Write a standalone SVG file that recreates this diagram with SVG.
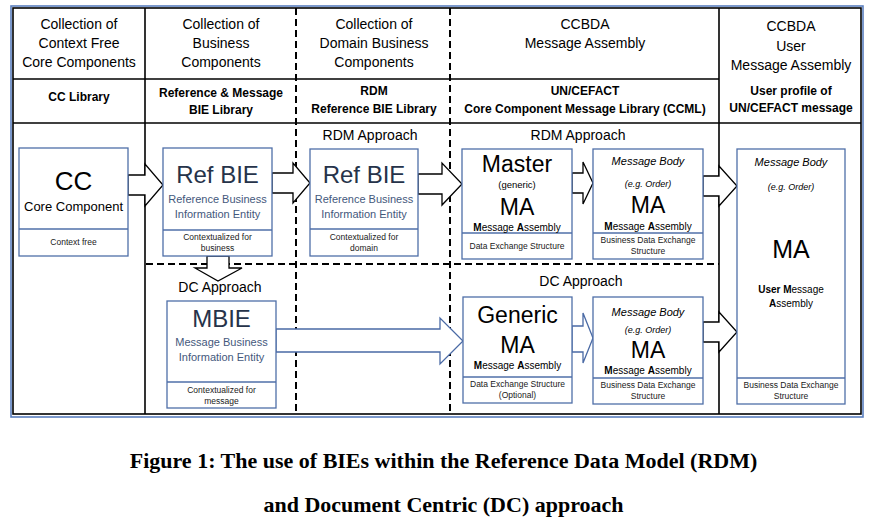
<svg xmlns="http://www.w3.org/2000/svg" width="872" height="519" viewBox="0 0 872 519">
<style>
text{font-family:"Liberation Sans",Arial,sans-serif;text-anchor:middle;fill:#000}
.grid{stroke:#000;stroke-width:1.6;fill:none}
.dash{stroke:#000;stroke-width:2;fill:none;stroke-dasharray:7,4}
.box{fill:#fff;stroke:#4f6fa8;stroke-width:1.3}
.div{stroke:#4f6fa8;stroke-width:1.3}
.arr{fill:#fff;stroke:#000;stroke-width:1.3;stroke-linejoin:miter}
.arrb{fill:#fff;stroke:#4a6aa5;stroke-width:1.3}
.h1{font-size:14px}
.h2{font-size:12px;font-weight:bold}
.big{font-size:24px;fill:#26334a}
.sub{font-size:11px;fill:#44587c}
.sm{font-size:8.5px;fill:#1a1a1a}
.ma{font-size:23px}
.msa{font-size:10px}
.it{font-size:11px;font-style:italic}
.it2{font-size:9px;font-style:italic}
.ap{font-size:14px}
.cap{font-family:"Liberation Serif","Times New Roman",serif;font-size:22px;font-weight:bold}
</style>
<rect x="0" y="0" width="872" height="519" fill="#fff"/>
<g id="frame">
<rect x="11" y="6" width="852" height="411" fill="none" stroke="#5b7fbf" stroke-width="1.6"/>
<rect x="13" y="8" width="848" height="406" class="grid"/>
<line x1="13" y1="79" x2="719" y2="79" class="grid"/>
<line x1="13" y1="123" x2="861" y2="123" class="grid"/>
<line x1="145" y1="8" x2="145" y2="414" class="grid"/>
<line x1="719" y1="8" x2="719" y2="414" class="grid"/>
<line x1="296" y1="8" x2="296" y2="414" class="dash"/>
<line x1="450" y1="8" x2="450" y2="414" class="dash"/>
<line x1="146" y1="264" x2="719" y2="264" class="dash" stroke-dasharray="8,4"/>
</g>
<g id="headers">
<text class="h1" x="79" y="29">Collection of</text>
<text class="h1" x="79" y="48">Context Free</text>
<text class="h1" x="79" y="67">Core Components</text>
<text class="h1" x="221" y="29">Collection of</text>
<text class="h1" x="221" y="48">Business</text>
<text class="h1" x="221" y="67">Components</text>
<text class="h1" x="374" y="29">Collection of</text>
<text class="h1" x="374" y="48">Domain Business</text>
<text class="h1" x="374" y="67">Components</text>
<text class="h1" x="585" y="29">CCBDA</text>
<text class="h1" x="585" y="48">Message Assembly</text>
<text class="h1" x="791" y="31">CCBDA</text>
<text class="h1" x="791" y="51">User</text>
<text class="h1" x="791" y="70">Message Assembly</text>
<text class="h2" x="79" y="101">CC Library</text>
<text class="h2" x="221" y="97">Reference &amp; Message</text>
<text class="h2" x="221" y="114">BIE Library</text>
<text class="h2" x="374" y="95">RDM</text>
<text class="h2" x="374" y="113">Reference BIE Library</text>
<text class="h2" x="585" y="95">UN/CEFACT</text>
<text class="h2" x="585" y="113">Core Component Message Library (CCML)</text>
<text class="h2" x="791" y="95">User profile of</text>
<text class="h2" x="791" y="112">UN/CEFACT message</text>
<text class="ap" x="370" y="140">RDM Approach</text>
<text class="ap" x="578" y="140">RDM Approach</text>
<text class="ap" x="220" y="292">DC Approach</text>
<text class="ap" x="581" y="286">DC Approach</text>
</g>
<g id="connectors">
<polygon class="arr" points="128,175 145,175 145,164 163,185 145,206 145,195 128,195"/>
<polygon class="arr" points="272,173 293,173 293,163 310,183 293,203 293,193 272,193"/>
<polygon class="arr" points="418,174 442,174 442,163 462,184 442,205 442,194 418,194"/>
<polygon class="arr" points="572,173 583,173 583,162 593,183 583,204 583,193 572,193"/>
<polygon class="arr" points="703,176 719,176 719,166 737,186 719,206 719,196 703,196"/>
<polygon class="arr" points="207,256 207,268 195,268 218,281 242,268 229,268 229,256"/>
<polygon class="arrb" points="276,329 440,329 440,318 463,341 440,364 440,352 276,352"/>
<polygon class="arrb" points="572,326 583,326 583,313 593,338 583,363 583,352 572,352"/>
<polygon class="arr" points="703,322 719,322 719,312 737,332 719,352 719,342 703,342"/>
</g>
<g id="cc">
<rect class="box" x="19" y="148" width="109" height="108"/>
<line class="div" x1="19" y1="229" x2="128" y2="229"/>
<text x="73.5" y="190" font-size="26">CC</text>
<text x="73.5" y="211" font-size="13">Core Component</text>
<text class="sm" x="73.5" y="245">Context free</text>
</g>
<g id="refbie">
<rect class="box" x="163" y="148" width="109" height="108"/>
<line class="div" x1="163" y1="230" x2="272" y2="230"/>
<text class="big" x="217.5" y="183">Ref BIE</text>
<text class="sub" x="217.5" y="203">Reference Business</text>
<text class="sub" x="217.5" y="218">Information Entity</text>
<text class="sm" x="217.5" y="240">Contextualized for</text>
<text class="sm" x="217.5" y="251">business</text>
</g>
<g id="refbie-rdm">
<rect class="box" x="310" y="149" width="108" height="107"/>
<line class="div" x1="310" y1="229" x2="418" y2="229"/>
<text class="big" x="364" y="183">Ref BIE</text>
<text class="sub" x="364" y="203">Reference Business</text>
<text class="sub" x="364" y="218">Information Entity</text>
<text class="sm" x="364" y="240">Contextualized for</text>
<text class="sm" x="364" y="251">domain</text>
</g>
<g id="master-ma">
<rect class="box" x="462" y="149" width="110" height="110"/>
<line class="div" x1="462" y1="233" x2="572" y2="233"/>
<text x="517" y="172" font-size="23">Master</text>
<text x="517" y="188" font-size="9.5">(generic)</text>
<text class="ma" x="517" y="215">MA</text>
<text class="msa" x="517" y="231"><tspan font-weight="bold">M</tspan>essage <tspan font-weight="bold">A</tspan>ssembly</text>
<text class="sm" x="517" y="249">Data Exchange Structure</text>
</g>
<g id="body-rdm">
<rect class="box" x="593" y="149" width="110" height="110"/>
<line class="div" x1="593" y1="233" x2="703" y2="233"/>
<text class="it" x="648" y="165">Message Body</text>
<text class="it2" x="648" y="187">(e.g. Order)</text>
<text class="ma" x="648" y="213">MA</text>
<text class="msa" x="648" y="230"><tspan font-weight="bold">M</tspan>essage <tspan font-weight="bold">A</tspan>ssembly</text>
<text class="sm" x="648" y="243" font-size="8">Business Data Exchange</text>
<text class="sm" x="648" y="254" font-size="8">Structure</text>
</g>
<g id="user-ma">
<rect class="box" x="737" y="149" width="108" height="255"/>
<line class="div" x1="737" y1="378" x2="845" y2="378"/>
<text class="it" x="791" y="166">Message Body</text>
<text class="it2" x="791" y="190">(e.g. Order)</text>
<text x="791" y="258" font-size="25">MA</text>
<text class="msa" x="791" y="293"><tspan font-weight="bold">User M</tspan>essage</text>
<text class="msa" x="791" y="307"><tspan font-weight="bold">A</tspan>ssembly</text>
<text class="sm" x="791" y="388" font-size="8">Business Data Exchange</text>
<text class="sm" x="791" y="399" font-size="8">Structure</text>
</g>
<g id="mbie">
<rect class="box" x="167" y="301" width="109" height="107"/>
<line class="div" x1="167" y1="382" x2="276" y2="382"/>
<text class="big" x="221.5" y="327">MBIE</text>
<text class="sub" x="221.5" y="346">Message Business</text>
<text class="sub" x="221.5" y="361">Information Entity</text>
<text class="sm" x="221.5" y="393">Contextualized for</text>
<text class="sm" x="221.5" y="404">message</text>
</g>
<g id="generic-ma">
<rect class="box" x="463" y="297" width="109" height="106"/>
<line class="div" x1="463" y1="377" x2="572" y2="377"/>
<text x="517.5" y="323" font-size="23">Generic</text>
<text class="ma" x="517.5" y="353">MA</text>
<text class="msa" x="517.5" y="369"><tspan font-weight="bold">M</tspan>essage <tspan font-weight="bold">A</tspan>ssembly</text>
<text class="sm" x="517.5" y="387">Data Exchange Structure</text>
<text class="sm" x="517.5" y="398">(Optional)</text>
</g>
<g id="body-dc">
<rect class="box" x="593" y="297" width="110" height="107"/>
<line class="div" x1="593" y1="378" x2="703" y2="378"/>
<text class="it" x="648" y="316">Message Body</text>
<text class="it2" x="648" y="333">(e.g. Order)</text>
<text class="ma" x="648" y="358">MA</text>
<text class="msa" x="648" y="374"><tspan font-weight="bold">M</tspan>essage <tspan font-weight="bold">A</tspan>ssembly</text>
<text class="sm" x="648" y="388" font-size="8">Business Data Exchange</text>
<text class="sm" x="648" y="399" font-size="8">Structure</text>
</g>
<g id="caption">
<text class="cap" x="443.5" y="468">Figure 1: The use of BIEs within the Reference Data Model (RDM)</text>
<text class="cap" x="443.5" y="512">and Document Centric (DC) approach</text>
</g>
</svg>
